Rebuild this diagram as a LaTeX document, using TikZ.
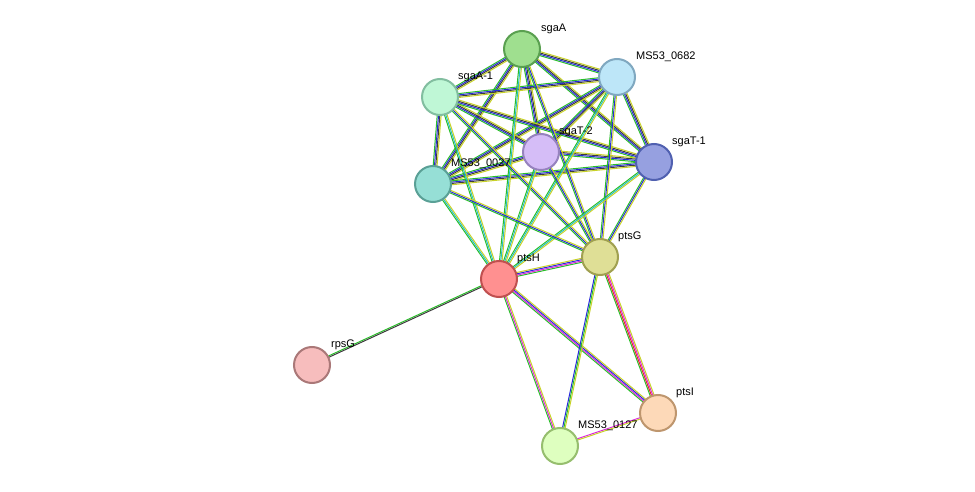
\documentclass[tikz,border=0pt]{standalone}
\usepackage{fontspec}
\setmainfont{Liberation Sans}
\usetikzlibrary{calc}
\definecolor{eg}{RGB}{40,190,40}
\definecolor{eb}{RGB}{40,40,220}
\definecolor{ey}{RGB}{200,210,40}
\definecolor{ec}{RGB}{40,190,200}
\definecolor{ek}{RGB}{60,60,60}
\definecolor{em}{RGB}{220,40,220}
\definecolor{er}{RGB}{230,40,40}
\definecolor{ep}{RGB}{150,140,230}
\tikzset{
 prot/.style={circle,minimum size=36pt,inner sep=0pt,line width=2pt},
 lab/.style={font=\fontsize{11}{13}\selectfont,anchor=south west,inner sep=1pt},
}
\newcommand{\edg}[3]{\foreach \c [count=\i] in {#3}{\pgfmathsetmacro{\o}{(\i-2)*1.3}
 \draw[\c,line width=1pt] ($(#1)!\o pt!90:(#2)$) -- ($(#2)!\o pt!-90:(#1)$);}}
\begin{document}
\begin{tikzpicture}[x=1pt,y=-1pt]
\useasboundingbox (0,0) rectangle (975,492);
\coordinate (sgaA) at (522,49);
\coordinate (m682) at (617,77);
\coordinate (sgaA1) at (440,97);
\coordinate (sgaT2) at (541,152);
\coordinate (sgaT1) at (654,162);
\coordinate (m027) at (433,184);
\coordinate (ptsG) at (600,257);
\coordinate (ptsH) at (499,279);
\coordinate (rpsG) at (312,365);
\coordinate (ptsI) at (658,413);
\coordinate (m127) at (560,446);
% clique edges
\foreach \a/\b in {sgaA/m682,sgaA/sgaA1,sgaA/sgaT2,sgaA/sgaT1,sgaA/m027,m682/sgaA1,m682/sgaT2,m682/sgaT1,m682/m027,sgaA1/sgaT2,sgaA1/sgaT1,sgaA1/m027,sgaT2/sgaT1,sgaT2/m027,sgaT1/m027}{\edg{\a}{\b}{eg,eb,ek,ey}}
\foreach \a in {sgaA,m682,sgaA1,sgaT2,sgaT1,m027}{\edg{\a}{ptsG}{eg,eb,ey}\edg{\a}{ptsH}{eg,ec,ey}}
\edg{ptsH}{ptsG}{eg,em,eb,ey}
\edg{ptsH}{rpsG}{eg,ek}
\edg{ptsH}{ptsI}{eg,em,eb,ey}
\edg{ptsH}{m127}{eg,em,ey}
\edg{ptsG}{ptsI}{eg,er,em,ey}
\edg{ptsG}{m127}{eb,eg,ey}
\edg{ptsI}{m127}{em,ey}
% nodes
\node[prot,fill={rgb,255:red,159;green,223;blue,143},draw={rgb,255:red,90;green,160;blue,80}] (nsgaA) at (sgaA) {};
\node[prot,fill={rgb,255:red,189;green,230;blue,248},draw={rgb,255:red,128;green,168;blue,192}] (n682) at (m682) {};
\node[prot,fill={rgb,255:red,191;green,247;blue,214},draw={rgb,255:red,130;green,190;blue,160}] (nsgaA1) at (sgaA1) {};
\node[prot,fill={rgb,255:red,213;green,189;blue,247},draw={rgb,255:red,150;green,130;blue,190}] (nsgaT2) at (sgaT2) {};
\node[prot,fill={rgb,255:red,150;green,160;blue,224},draw={rgb,255:red,80;green,96;blue,176}] (nsgaT1) at (sgaT1) {};
\node[prot,fill={rgb,255:red,150;green,223;blue,214},draw={rgb,255:red,90;green,160;blue,150}] (n027) at (m027) {};
\node[prot,fill={rgb,255:red,223;green,223;blue,150},draw={rgb,255:red,160;green,160;blue,80}] (nptsG) at (ptsG) {};
\node[prot,fill={rgb,255:red,255;green,144;blue,144},draw={rgb,255:red,192;green,80;blue,80}] (nptsH) at (ptsH) {};
\node[prot,fill={rgb,255:red,247;green,189;blue,189},draw={rgb,255:red,170;green,120;blue,120}] (nrpsG) at (rpsG) {};
\node[prot,fill={rgb,255:red,253;green,217;blue,184},draw={rgb,255:red,190;green,150;blue,110}] (nptsI) at (ptsI) {};
\node[prot,fill={rgb,255:red,222;green,255;blue,191},draw={rgb,255:red,150;green,190;blue,110}] (n127) at (m127) {};
% labels
\node[lab] at (540,35) {sgaA};
\node[lab] at (635,63) {MS53\_0682};
\node[lab] at (457,83) {sgaA-1};
\node[lab] at (558,138) {sgaT-2};
\node[lab] at (671,148) {sgaT-1};
\node[lab] at (450,170) {MS53\_0027};
\node[lab] at (617,243) {ptsG};
\node[lab] at (516,265) {ptsH};
\node[lab] at (330,351) {rpsG};
\node[lab] at (675,399) {ptsI};
\node[lab] at (577,432) {MS53\_0127};
\end{tikzpicture}
\end{document}
